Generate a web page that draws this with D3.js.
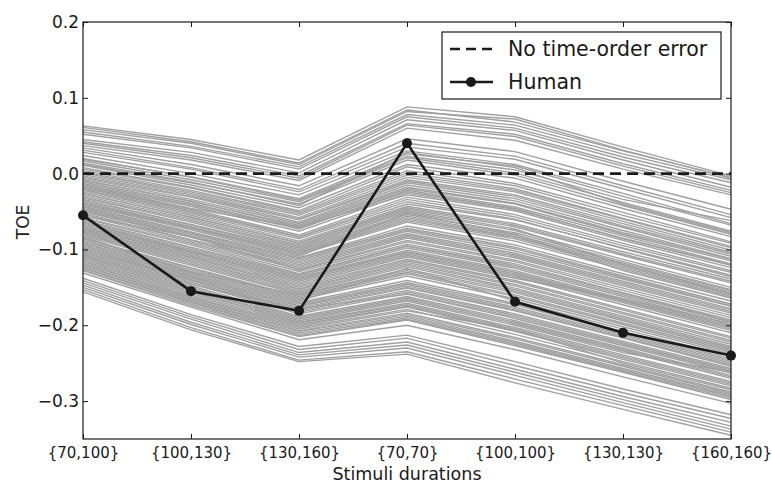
<!DOCTYPE html>
<html>
<head>
<meta charset="utf-8">
<script src="https://cdn.jsdelivr.net/npm/d3@7"></script>
<style>
  body { margin: 0; background: #fff; }
  svg text { font-family: "DejaVu Sans", sans-serif; fill: #1a1a1a; }
</style>
</head>
<body>
<svg id="chart" width="772" height="484"></svg>
<script>
// categories on the x axis
var categories = ['{70,100}', '{100,130}', '{130,160}', '{70,70}', '{100,100}', '{130,130}', '{160,160}'];

// human time-order error per condition
var human = [-0.055, -0.155, -0.181, 0.040, -0.169, -0.210, -0.240];

// model runs (grey), one row per run
var modelRuns = [
    [0.063, 0.045, 0.018, 0.088, 0.075, 0.035, -0.003],
    [0.061, 0.042, 0.014, 0.084, 0.068, 0.030, -0.005],
    [0.058, 0.040, 0.012, 0.082, 0.072, 0.031, -0.006],
    [0.055, 0.036, 0.009, 0.078, 0.064, 0.026, -0.008],
    [0.052, 0.034, 0.006, 0.075, 0.060, 0.022, -0.012],
    [0.045, 0.028, 0.001, 0.071, 0.057, 0.018, -0.018],
    [0.042, 0.024, -0.003, 0.066, 0.052, 0.013, -0.022],
    [0.040, 0.021, -0.006, 0.064, 0.049, 0.010, -0.025],
    [0.037, 0.018, -0.009, 0.060, 0.044, 0.006, -0.028],
    [0.034, 0.012, -0.016, 0.046, 0.029, -0.010, -0.047],
    [0.031, 0.008, -0.021, 0.040, 0.023, -0.016, -0.054],
    [0.028, 0.006, -0.024, 0.035, 0.019, -0.020, -0.058],
    [0.024, 0.000, -0.028, 0.030, 0.012, -0.026, -0.066],
    [0.020, -0.005, -0.035, 0.023, 0.005, -0.034, -0.062],
    [0.019, -0.004, -0.033, 0.026, 0.010, -0.030, -0.068],
    [0.017, -0.008, -0.037, 0.021, 0.001, -0.038, -0.076],
    [0.014, -0.011, -0.042, 0.028, 0.008, -0.040, -0.078],
    [0.012, -0.012, -0.040, 0.018, -0.002, -0.042, -0.080],
    [0.011, -0.015, -0.045, 0.012, -0.006, -0.046, -0.083],
    [0.008, -0.018, -0.049, 0.009, -0.013, -0.051, -0.090],
    [0.006, -0.019, -0.051, 0.004, -0.016, -0.055, -0.092],
    [0.004, -0.022, -0.053, 0.001, -0.020, -0.059, -0.096],
    [0.002, -0.024, -0.055, -0.002, -0.022, -0.060, -0.098],
    [0.001, -0.026, -0.058, -0.005, -0.024, -0.063, -0.101],
    [-0.001, -0.028, -0.060, -0.008, -0.028, -0.066, -0.104],
    [-0.003, -0.030, -0.061, -0.010, -0.030, -0.069, -0.106],
    [-0.005, -0.031, -0.064, -0.012, -0.033, -0.071, -0.109],
    [-0.006, -0.034, -0.066, -0.015, -0.036, -0.075, -0.112],
    [-0.008, -0.037, -0.068, -0.018, -0.039, -0.078, -0.113],
    [-0.009, -0.036, -0.070, -0.020, -0.040, -0.080, -0.115],
    [-0.011, -0.039, -0.072, -0.024, -0.046, -0.086, -0.121],
    [-0.013, -0.041, -0.073, -0.022, -0.044, -0.082, -0.119],
    [-0.015, -0.043, -0.076, -0.026, -0.047, -0.085, -0.120],
    [-0.016, -0.046, -0.070, -0.028, -0.049, -0.088, -0.124],
    [-0.018, -0.047, -0.081, -0.031, -0.054, -0.092, -0.128],
    [-0.019, -0.049, -0.083, -0.034, -0.057, -0.095, -0.130],
    [-0.021, -0.051, -0.084, -0.037, -0.060, -0.099, -0.136],
    [-0.022, -0.053, -0.086, -0.040, -0.061, -0.098, -0.134],
    [-0.024, -0.055, -0.089, -0.043, -0.066, -0.103, -0.139],
    [-0.026, -0.058, -0.091, -0.045, -0.068, -0.106, -0.142],
    [-0.027, -0.057, -0.092, -0.047, -0.070, -0.108, -0.144],
    [-0.029, -0.060, -0.094, -0.049, -0.073, -0.120, -0.158],
    [-0.031, -0.062, -0.096, -0.051, -0.075, -0.113, -0.150],
    [-0.032, -0.064, -0.098, -0.054, -0.078, -0.116, -0.153],
    [-0.034, -0.067, -0.100, -0.056, -0.081, -0.118, -0.154],
    [-0.035, -0.068, -0.102, -0.058, -0.083, -0.120, -0.156],
    [-0.037, -0.070, -0.104, -0.060, -0.084, -0.122, -0.159],
    [-0.038, -0.071, -0.105, -0.062, -0.086, -0.124, -0.160],
    [-0.040, -0.072, -0.107, -0.064, -0.089, -0.126, -0.162],
    [-0.041, -0.074, -0.109, -0.052, -0.080, -0.128, -0.164],
    [-0.043, -0.077, -0.111, -0.069, -0.094, -0.132, -0.168],
    [-0.044, -0.078, -0.112, -0.072, -0.097, -0.135, -0.172],
    [-0.046, -0.080, -0.114, -0.074, -0.099, -0.137, -0.174],
    [-0.047, -0.082, -0.116, -0.076, -0.102, -0.139, -0.175],
    [-0.049, -0.083, -0.118, -0.079, -0.105, -0.142, -0.178],
    [-0.050, -0.084, -0.120, -0.081, -0.107, -0.144, -0.180],
    [-0.052, -0.087, -0.122, -0.083, -0.109, -0.146, -0.182],
    [-0.053, -0.088, -0.124, -0.085, -0.111, -0.148, -0.184],
    [-0.055, -0.090, -0.126, -0.088, -0.114, -0.151, -0.187],
    [-0.056, -0.083, -0.127, -0.090, -0.116, -0.154, -0.190],
    [-0.058, -0.092, -0.129, -0.093, -0.119, -0.157, -0.193],
    [-0.059, -0.094, -0.132, -0.095, -0.121, -0.158, -0.195],
    [-0.061, -0.097, -0.133, -0.096, -0.123, -0.160, -0.196],
    [-0.062, -0.098, -0.135, -0.098, -0.125, -0.162, -0.199],
    [-0.064, -0.100, -0.137, -0.101, -0.128, -0.165, -0.201],
    [-0.065, -0.102, -0.138, -0.103, -0.130, -0.167, -0.203],
    [-0.067, -0.103, -0.140, -0.104, -0.132, -0.168, -0.205],
    [-0.068, -0.104, -0.142, -0.106, -0.134, -0.170, -0.207],
    [-0.070, -0.106, -0.144, -0.108, -0.136, -0.173, -0.210],
    [-0.071, -0.108, -0.146, -0.110, -0.138, -0.165, -0.198],
    [-0.073, -0.110, -0.148, -0.113, -0.141, -0.178, -0.215],
    [-0.074, -0.111, -0.150, -0.115, -0.143, -0.180, -0.217],
    [-0.076, -0.113, -0.152, -0.117, -0.146, -0.183, -0.220],
    [-0.077, -0.115, -0.153, -0.119, -0.148, -0.185, -0.222],
    [-0.079, -0.117, -0.155, -0.121, -0.151, -0.188, -0.225],
    [-0.080, -0.119, -0.157, -0.123, -0.153, -0.190, -0.228],
    [-0.082, -0.121, -0.159, -0.126, -0.155, -0.192, -0.230],
    [-0.083, -0.130, -0.160, -0.128, -0.157, -0.194, -0.232],
    [-0.085, -0.124, -0.162, -0.130, -0.160, -0.197, -0.234],
    [-0.086, -0.125, -0.164, -0.132, -0.162, -0.199, -0.236],
    [-0.088, -0.127, -0.166, -0.135, -0.165, -0.202, -0.238],
    [-0.089, -0.129, -0.168, -0.125, -0.168, -0.205, -0.241],
    [-0.091, -0.131, -0.170, -0.141, -0.171, -0.208, -0.244],
    [-0.092, -0.133, -0.172, -0.144, -0.173, -0.210, -0.246],
    [-0.094, -0.135, -0.174, -0.146, -0.176, -0.212, -0.248],
    [-0.095, -0.136, -0.175, -0.148, -0.178, -0.214, -0.250],
    [-0.097, -0.138, -0.177, -0.150, -0.180, -0.216, -0.252],
    [-0.098, -0.140, -0.179, -0.151, -0.181, -0.217, -0.254],
    [-0.100, -0.141, -0.181, -0.154, -0.185, -0.221, -0.257],
    [-0.101, -0.143, -0.183, -0.156, -0.187, -0.223, -0.259],
    [-0.103, -0.145, -0.185, -0.158, -0.189, -0.225, -0.261],
    [-0.104, -0.146, -0.178, -0.159, -0.191, -0.227, -0.263],
    [-0.106, -0.148, -0.188, -0.162, -0.194, -0.230, -0.266],
    [-0.107, -0.150, -0.190, -0.164, -0.196, -0.232, -0.268],
    [-0.109, -0.152, -0.192, -0.166, -0.198, -0.234, -0.270],
    [-0.110, -0.153, -0.194, -0.168, -0.200, -0.236, -0.262],
    [-0.112, -0.155, -0.196, -0.171, -0.203, -0.239, -0.274],
    [-0.113, -0.156, -0.197, -0.173, -0.205, -0.241, -0.276],
    [-0.115, -0.158, -0.199, -0.175, -0.207, -0.243, -0.278],
    [-0.116, -0.160, -0.201, -0.176, -0.208, -0.245, -0.280],
    [-0.118, -0.162, -0.203, -0.179, -0.212, -0.248, -0.283],
    [-0.119, -0.163, -0.205, -0.181, -0.205, -0.250, -0.285],
    [-0.121, -0.165, -0.207, -0.184, -0.216, -0.252, -0.288],
    [-0.122, -0.167, -0.208, -0.186, -0.218, -0.254, -0.290],
    [-0.124, -0.169, -0.210, -0.188, -0.221, -0.257, -0.292],
    [-0.125, -0.170, -0.212, -0.190, -0.223, -0.259, -0.294],
    [-0.127, -0.172, -0.214, -0.192, -0.225, -0.261, -0.296],
    [-0.128, -0.174, -0.215, -0.193, -0.227, -0.262, -0.298],
    [-0.131, -0.176, -0.219, -0.200, -0.232, -0.268, -0.303],
    [-0.138, -0.186, -0.228, -0.213, -0.248, -0.284, -0.318],
    [-0.141, -0.189, -0.232, -0.217, -0.253, -0.289, -0.323],
    [-0.144, -0.192, -0.236, -0.222, -0.258, -0.294, -0.328],
    [-0.147, -0.196, -0.239, -0.226, -0.262, -0.298, -0.333],
    [-0.150, -0.199, -0.242, -0.230, -0.266, -0.302, -0.337],
    [-0.153, -0.203, -0.246, -0.235, -0.271, -0.306, -0.341],
    [-0.156, -0.206, -0.248, -0.238, -0.276, -0.311, -0.345]
];

var yTicks = [0.2, 0.1, 0.0, -0.1, -0.2, -0.3];
var yDomain = [-0.35, 0.2];

var svg = d3.select('#chart');
var margin = {left: 83, right: 41, top: 22, bottom: 45};
var width = 772 - margin.left - margin.right,
    height = 484 - margin.top - margin.bottom;

var g = svg.append('g').attr('transform', 'translate(' + margin.left + ',' + margin.top + ')');

var x = d3.scalePoint().domain(categories).range([0, width]).padding(0);
var y = d3.scaleLinear().domain(yDomain).range([height, 0]);

var fmt = function(d) {
    return d3.format('.1f')(d).replace('-', '\u2212');
};

var line = d3.line()
    .x(function(d, i) { return x(categories[i]); })
    .y(function(d) { return y(d); });

// grey model runs
g.append('g')
    .selectAll('path')
    .data(modelRuns)
    .enter()
    .append('path')
    .attr('d', line)
    .attr('fill', 'none')
    .attr('stroke', '#a0a0a0')
    .attr('stroke-width', 1.4);

// zero line
g.append('line')
    .attr('x1', 0).attr('x2', width)
    .attr('y1', y(0)).attr('y2', y(0))
    .attr('stroke', '#1a1a1a')
    .attr('stroke-width', 2.6)
    .attr('stroke-dasharray', '11,6');

// human
g.append('path')
    .datum(human)
    .attr('d', line)
    .attr('fill', 'none')
    .attr('stroke', '#1a1a1a')
    .attr('stroke-width', 2.6);

g.selectAll('circle.human')
    .data(human)
    .enter()
    .append('circle')
    .attr('class', 'human')
    .attr('cx', function(d, i) { return x(categories[i]); })
    .attr('cy', function(d) { return y(d); })
    .attr('r', 5)
    .attr('fill', '#1a1a1a');

// axes, ticks inside on all sides
var axisLeft = d3.axisLeft(y).tickValues(yTicks).tickSizeInner(-5).tickSizeOuter(0).tickPadding(4).tickFormat(fmt);
var axisRight = d3.axisRight(y).tickValues(yTicks).tickSizeInner(-5).tickSizeOuter(0).tickFormat('');
var axisBottom = d3.axisBottom(x).tickSizeInner(-5).tickSizeOuter(0).tickPadding(8);
var axisTop = d3.axisTop(x).tickSizeInner(-5).tickSizeOuter(0).tickFormat('');

var gl = g.append('g').call(axisLeft);
g.append('g').attr('transform', 'translate(' + width + ',0)').call(axisRight);
var gb = g.append('g').attr('transform', 'translate(0,' + height + ')').call(axisBottom);
g.append('g').call(axisTop);

g.selectAll('.domain').remove();
g.selectAll('.tick line').attr('stroke', '#1a1a1a').attr('stroke-width', 1);

gl.selectAll('text').style('font-size', '17px').attr('fill', '#1a1a1a');
gb.selectAll('text').style('font-size', '15px').attr('fill', '#1a1a1a');

g.append('rect')
    .attr('width', width).attr('height', height)
    .attr('fill', 'none')
    .attr('stroke', '#1a1a1a')
    .attr('stroke-width', 1.2);

// axis titles
svg.append('text')
    .attr('transform', 'translate(29,222) rotate(-90)')
    .attr('text-anchor', 'middle')
    .style('font-size', '17px')
    .text('TOE');

svg.append('text')
    .attr('x', margin.left + width / 2)
    .attr('y', 480)
    .attr('text-anchor', 'middle')
    .style('font-size', '17.5px')
    .text('Stimuli durations');

// legend
var lg = svg.append('g').attr('transform', 'translate(442,32)');
lg.append('rect')
    .attr('width', 279).attr('height', 67)
    .attr('fill', '#fff')
    .attr('stroke', '#1a1a1a')
    .attr('stroke-width', 1.2);
lg.append('line')
    .attr('x1', 8).attr('x2', 51).attr('y1', 17).attr('y2', 17)
    .attr('stroke', '#1a1a1a').attr('stroke-width', 2.6)
    .attr('stroke-dasharray', '10,6');
lg.append('text').attr('x', 66).attr('y', 24).style('font-size', '20.5px').text('No time-order error');
lg.append('line')
    .attr('x1', 8).attr('x2', 51).attr('y1', 50).attr('y2', 50)
    .attr('stroke', '#1a1a1a').attr('stroke-width', 2.6);
lg.append('circle').attr('cx', 29).attr('cy', 50).attr('r', 5).attr('fill', '#1a1a1a');
lg.append('text').attr('x', 66).attr('y', 57).style('font-size', '20.5px').text('Human');
</script>
</body>
</html>
